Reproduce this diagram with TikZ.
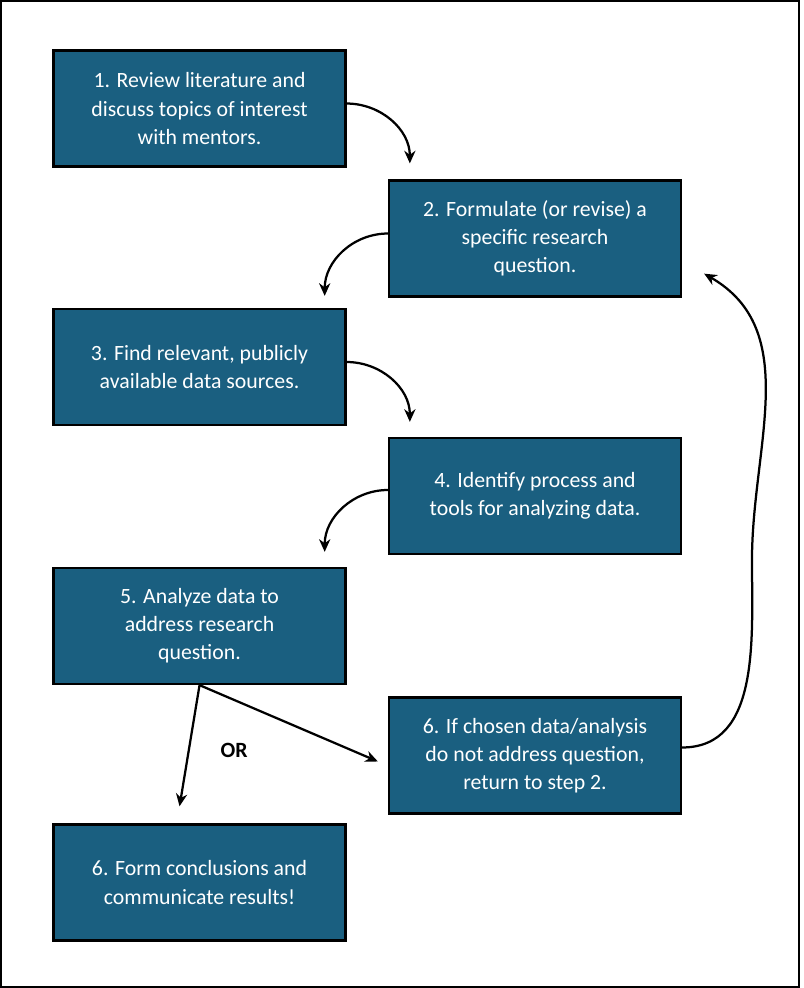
\documentclass[tikz,border=0pt]{standalone}
\usepackage{fontspec}
\setmainfont{Carlito}
\usetikzlibrary{arrows.meta, calc}
\definecolor{stepblue}{HTML}{1A5F80}
\begin{document}
\begin{tikzpicture}[x=0.025cm, y=-0.025cm,
	            stage/.style={
	            draw=black,
	            line width=1.6pt,
	            fill=stepblue,
	            text=white,
	            align=center,
	            minimum width=7.3cm,
	            minimum height=2.9cm,
	            font=\fontsize{15.5}{20}\selectfont,
	            },
	            >={Stealth[length=9pt,width=8pt]},
	            link/.style={->, line width=1.6pt}]
	    
	        \draw[line width=1.5pt] (1,1) rectangle (799,987);
	        
	        \node[stage] (b1) at (199.5,108.5) {1. Review literature and\\discuss topics of interest\\with mentors.};
	        \node[stage] (b2) at (535,238.5) {2. Formulate (or revise) a\\specific research\\question.};
	        \node[stage] (b3) at (199.5,367) {3. Find relevant, publicly\\available data sources.};
	        \node[stage] (b4) at (535,496) {4. Identify process and\\tools for analyzing data.};
	        \node[stage] (b5) at (199.5,626) {5. Analyze data to\\address research\\question.};
	        \node[stage] (b6) at (535,755.5) {6. If chosen data/analysis\\do not address question,\\return to step 2.};
	        \node[stage] (b7) at (199.5,882.5) {6. Form conclusions and\\communicate results!};
	        \node[font=\fontsize{15.5}{20}\selectfont\bfseries] (or) at (234,750) {OR};
	        
	        \draw[link] (b1.east) ++(0,-5) to[out=0,in=90] ($(b2.north west)+(22,-16)$);
	        \draw[link] (b2.west) ++(0,-5) to[out=180,in=90] ($(b3.north east)+(-22,-12)$);
	        \draw[link] (b3.east) ++(0,-5) to[out=0,in=90] ($(b4.north west)+(22,-15)$);
	        \draw[link] (b4.west) ++(0,-6) to[out=180,in=90] ($(b5.north east)+(-22,-15)$);
	        \draw[link] (b5.south) -- ($(b7.north)+(-20,-17)$);
	        \draw[link] (b5.south) -- ($(b6.west)+(-10,6)$);
	        \draw[link] (b6.east) ++(0,-8) to[out=0,in=-90] (752,560) to[out=90,in=-30] ($(b2.south east)+(22,-24)$);

	    \end{tikzpicture}
\end{document}
